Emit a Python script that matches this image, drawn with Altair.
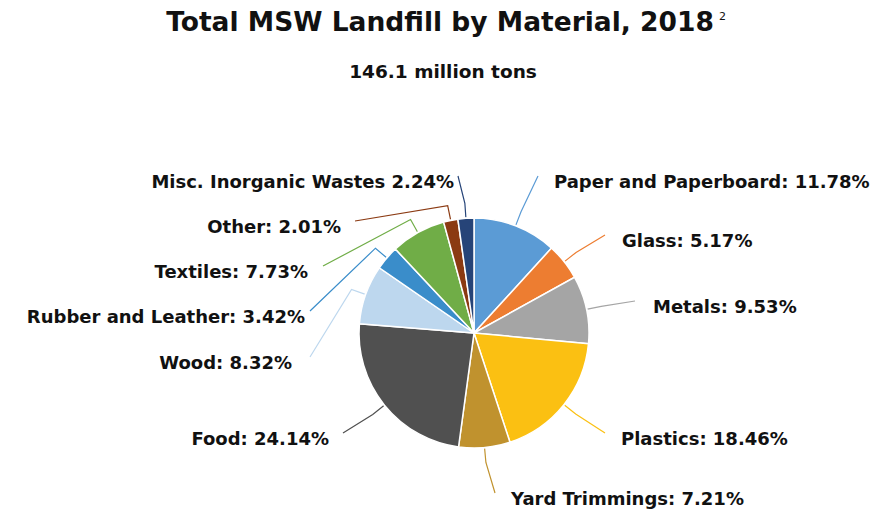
import altair as alt
import numpy as np
import pandas as pd

# ---------------- data ----------------
materials = [
    "Paper and Paperboard", "Glass", "Metals", "Plastics", "Yard Trimmings",
    "Food", "Wood", "Rubber and Leather", "Textiles", "Other",
    "Misc. Inorganic Wastes",
]
shares = [11.78, 5.17, 9.53, 18.46, 7.21, 24.14, 8.32, 3.42, 7.73, 2.01, 2.24]
label_texts = [
    "Paper and Paperboard: 11.78%", "Glass: 5.17%", "Metals: 9.53%",
    "Plastics: 18.46%", "Yard Trimmings: 7.21%", "Food: 24.14%",
    "Wood: 8.32%", "Rubber and Leather: 3.42%", "Textiles: 7.73%",
    "Other: 2.01%", "Misc. Inorganic Wastes 2.24%",
]
title_text = "Total MSW Landfill by Material, 2018"
title_note = "2"
subtitle_text = "146.1 million tons"

# ---------------- style / layout ----------------
colors = ["#5B9BD5", "#ED7D31", "#A5A5A5", "#FBC012", "#C0922E", "#505050",
          "#BDD7EE", "#3A8DCA", "#70AD47", "#8B3A12", "#264478"]
W, H = 890, 512
CX, CY, R = 474, 333, 115
label_side = ["right"] * 5 + ["left"] * 6
label_dx = [80, 148, 179, 147, 37, -145, -182, -169, -166, -133, -20]
label_dy = [-150, -91, -25, 107, 167, 107, 31, -15, -60, -105, -150]
leader_gap = [16, 17, 18, 16, 16, 14, 18, 5, 15, 14, 4]
FONT = "DejaVu Sans"

# ---------------- derived tables ----------------
sh = np.array(shares)
cum = np.cumsum(sh) / sh.sum() * 2 * np.pi
mid = cum - sh / sh.sum() * np.pi

pie_df = pd.DataFrame({"material": materials, "share": shares,
                       "idx": list(range(len(materials)))})

rows = []
for i, m in enumerate(materials):
    a = mid[i]
    ax, ay = CX + label_dx[i], CY + label_dy[i]
    sgn = -1 if label_side[i] == "right" else 1
    pts = [
        (CX + (R + 1) * np.sin(a), CY - (R + 1) * np.cos(a)),
        (CX + (R + 15) * np.sin(a), CY - (R + 15) * np.cos(a)),
        (ax + sgn * leader_gap[i], ay - 7),
    ]
    for k, (px, py) in enumerate(pts):
        rows.append({"material": m, "step": k, "px": px, "py": py})
lead_df = pd.DataFrame(rows)

lab_df = pd.DataFrame({
    "material": materials, "text": label_texts, "side": label_side,
    "px": [CX + d for d in label_dx], "py": [CY + d for d in label_dy],
})

xs = alt.Scale(domain=[0, W], nice=False, zero=False)
ys = alt.Scale(domain=[0, H], nice=False, zero=False, reverse=True)
cscale = alt.Scale(domain=materials, range=colors)

pie = alt.Chart(pie_df).mark_arc(
    outerRadius=R, stroke="white", strokeWidth=1.5
).encode(
    theta=alt.Theta("share:Q", stack=True),
    order=alt.Order("idx:Q"),
    color=alt.Color("material:N", scale=cscale, legend=None),
    x=alt.value(CX), y=alt.value(CY),
)

leaders = alt.Chart(lead_df).mark_line(strokeWidth=1.2).encode(
    x=alt.X("px:Q", scale=xs, axis=None),
    y=alt.Y("py:Q", scale=ys, axis=None),
    detail="material:N",
    order="step:Q",
    color=alt.Color("material:N", scale=cscale, legend=None),
)

def labels(side, align):
    return alt.Chart(lab_df).transform_filter(
        alt.datum.side == side
    ).mark_text(
        font=FONT, fontWeight="bold", fontSize=18, color="#111111",
        align=align, baseline="middle",
    ).encode(
        x=alt.X("px:Q", scale=xs, axis=None),
        y=alt.Y("py:Q", scale=ys, axis=None),
        text="text:N",
    )

titles = alt.Chart(pd.DataFrame({"t": [title_text]})).mark_text(
    font=FONT, fontWeight="bold", fontSize=26.5, color="#111111",
    align="center", baseline="middle",
).encode(x=alt.value(440), y=alt.value(23), text="t:N")

note = alt.Chart(pd.DataFrame({"t": [title_note]})).mark_text(
    font=FONT, fontSize=11, color="#111111", align="left", baseline="middle",
).encode(x=alt.value(719), y=alt.value(17), text="t:N")

sub = alt.Chart(pd.DataFrame({"t": [subtitle_text]})).mark_text(
    font=FONT, fontWeight="bold", fontSize=18.5, color="#111111",
    align="center", baseline="middle",
).encode(x=alt.value(443), y=alt.value(72), text="t:N")

chart = alt.layer(
    leaders, pie, labels("right", "left"), labels("left", "right"),
    titles, note, sub,
).properties(
    width=W, height=H, padding=0, autosize=alt.AutoSizeParams(type="none"),
    background="white",
).configure_view(stroke=None)

chart.save("out.html", embed_options={"renderer": "svg", "actions": False})
